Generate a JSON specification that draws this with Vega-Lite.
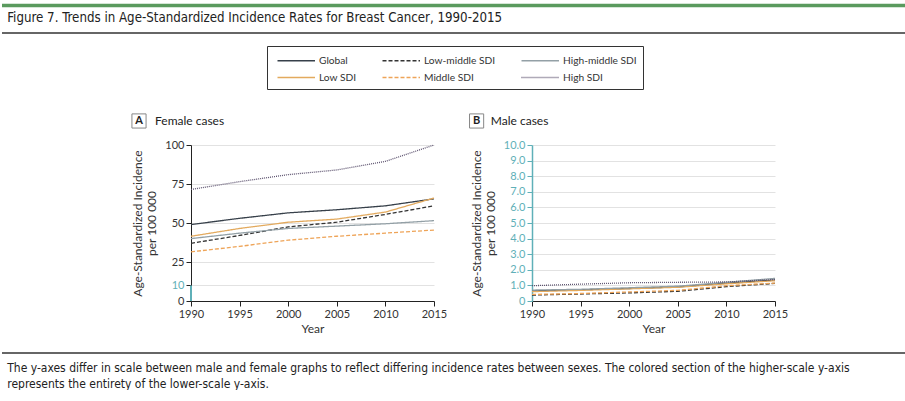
{
  "$schema": "https://vega.github.io/schema/vega-lite/v6.json",
  "background": "white",
  "padding": {"top": 3, "left": 0, "right": 0, "bottom": 0},
  "config": {
    "font": "Lato",
    "view": {"stroke": null},
    "axis": {
      "labelFont": "Lato", "labelFontSize": 11, "labelColor": "#333", "labelOverlap": false, "labelFlush": false,
      "titleFont": "Lato", "titleFontSize": 12, "titleFontWeight": "normal", "titleColor": "#333",
      "domainColor": "#222", "tickColor": "#222", "tickSize": 5, "gridColor": "#e2e2e2"
    },
    "legend": {
      "orient": "none", "legendX": 76, "legendY": -99, "columns": 3, "direction": "vertical", "title": null,
      "strokeColor": "#333", "padding": 6, "symbolType": "M0,0H5", "symbolSize": 225, "symbolOffset": -4,
      "symbolStrokeWidth": 1.5, "labelFont": "Lato", "labelFontSize": 10.2, "labelColor": "#333",
      "labelOffset": 33, "columnPadding": 21, "rowPadding": 3
    }
  },
  "title": {
    "text": "Figure 7. Trends in Age-Standardized Incidence Rates for Breast Cancer, 1990-2015",
    "font": "Liberation Sans Narrow, DejaVu Sans Condensed, sans-serif",
    "fontSize": 13.2, "fontWeight": "normal", "color": "#222",
    "anchor": "start", "frame": "bounds", "offset": -21, "dx": 7
  },
  "datasets": {
    "female": [
      {"series": "Global", "year": 1990, "rate": 49}, {"series": "Global", "year": 1995, "rate": 53}, {"series": "Global", "year": 2000, "rate": 56.5}, {"series": "Global", "year": 2005, "rate": 58.5}, {"series": "Global", "year": 2010, "rate": 61}, {"series": "Global", "year": 2015, "rate": 65.5},
      {"series": "Low SDI", "year": 1990, "rate": 41.5}, {"series": "Low SDI", "year": 1995, "rate": 46.5}, {"series": "Low SDI", "year": 2000, "rate": 50.5}, {"series": "Low SDI", "year": 2005, "rate": 52.5}, {"series": "Low SDI", "year": 2010, "rate": 57}, {"series": "Low SDI", "year": 2015, "rate": 66},
      {"series": "Low-middle SDI", "year": 1990, "rate": 37}, {"series": "Low-middle SDI", "year": 1995, "rate": 42}, {"series": "Low-middle SDI", "year": 2000, "rate": 47.5}, {"series": "Low-middle SDI", "year": 2005, "rate": 50.5}, {"series": "Low-middle SDI", "year": 2010, "rate": 55.5}, {"series": "Low-middle SDI", "year": 2015, "rate": 61},
      {"series": "High-middle SDI", "year": 1990, "rate": 40}, {"series": "High-middle SDI", "year": 1995, "rate": 43.5}, {"series": "High-middle SDI", "year": 2000, "rate": 46.5}, {"series": "High-middle SDI", "year": 2005, "rate": 48}, {"series": "High-middle SDI", "year": 2010, "rate": 49.5}, {"series": "High-middle SDI", "year": 2015, "rate": 51.5},
      {"series": "Middle SDI", "year": 1990, "rate": 31.5}, {"series": "Middle SDI", "year": 1995, "rate": 35}, {"series": "Middle SDI", "year": 2000, "rate": 39}, {"series": "Middle SDI", "year": 2005, "rate": 41.5}, {"series": "Middle SDI", "year": 2010, "rate": 43.5}, {"series": "Middle SDI", "year": 2015, "rate": 45.5},
      {"series": "High SDI", "year": 1990, "rate": 71.5}, {"series": "High SDI", "year": 1995, "rate": 76.5}, {"series": "High SDI", "year": 2000, "rate": 81}, {"series": "High SDI", "year": 2005, "rate": 84}, {"series": "High SDI", "year": 2010, "rate": 89.5}, {"series": "High SDI", "year": 2015, "rate": 100}
    ],
    "male": [
      {"series": "Global", "year": 1990, "rate": 0.65}, {"series": "Global", "year": 1995, "rate": 0.72}, {"series": "Global", "year": 2000, "rate": 0.8}, {"series": "Global", "year": 2005, "rate": 0.9}, {"series": "Global", "year": 2010, "rate": 1.15}, {"series": "Global", "year": 2015, "rate": 1.35},
      {"series": "Low SDI", "year": 1990, "rate": 0.6}, {"series": "Low SDI", "year": 1995, "rate": 0.68}, {"series": "Low SDI", "year": 2000, "rate": 0.78}, {"series": "Low SDI", "year": 2005, "rate": 0.88}, {"series": "Low SDI", "year": 2010, "rate": 1.1}, {"series": "Low SDI", "year": 2015, "rate": 1.3},
      {"series": "Low-middle SDI", "year": 1990, "rate": 0.38}, {"series": "Low-middle SDI", "year": 1995, "rate": 0.45}, {"series": "Low-middle SDI", "year": 2000, "rate": 0.52}, {"series": "Low-middle SDI", "year": 2005, "rate": 0.62}, {"series": "Low-middle SDI", "year": 2010, "rate": 0.92}, {"series": "Low-middle SDI", "year": 2015, "rate": 1.13},
      {"series": "High-middle SDI", "year": 1990, "rate": 0.7}, {"series": "High-middle SDI", "year": 1995, "rate": 0.75}, {"series": "High-middle SDI", "year": 2000, "rate": 0.85}, {"series": "High-middle SDI", "year": 2005, "rate": 0.95}, {"series": "High-middle SDI", "year": 2010, "rate": 1.2}, {"series": "High-middle SDI", "year": 2015, "rate": 1.45},
      {"series": "Middle SDI", "year": 1990, "rate": 0.42}, {"series": "Middle SDI", "year": 1995, "rate": 0.48}, {"series": "Middle SDI", "year": 2000, "rate": 0.58}, {"series": "Middle SDI", "year": 2005, "rate": 0.68}, {"series": "Middle SDI", "year": 2010, "rate": 0.98}, {"series": "Middle SDI", "year": 2015, "rate": 1.15},
      {"series": "High SDI", "year": 1990, "rate": 0.98}, {"series": "High SDI", "year": 1995, "rate": 1.08}, {"series": "High SDI", "year": 2000, "rate": 1.17}, {"series": "High SDI", "year": 2005, "rate": 1.2}, {"series": "High SDI", "year": 2010, "rate": 1.22}, {"series": "High SDI", "year": 2015, "rate": 1.38}
    ]
  },
  "vconcat": [
    {
      "title": {
        "text": ["The y-axes differ in scale between male and female graphs to reflect differing incidence rates between sexes. The colored section of the higher-scale y-axis", "represents the entirety of the lower-scale y-axis."],
        "orient": "bottom", "anchor": "start", "frame": "bounds", "offset": 9, "dx": 7,
        "font": "Liberation Sans Narrow, DejaVu Sans Condensed, sans-serif",
        "fontSize": 12, "fontWeight": "normal", "color": "#222", "lineHeight": 16
      },
      "spacing": 98,
      "bounds": "flush",
      "hconcat": [
        {
          "width": 243, "height": 156,
          "layer": [
            {
              "data": {"name": "female"},
              "mark": {"type": "line", "strokeWidth": 1.3},
              "encoding": {
                "x": {"field": "year", "type": "quantitative", "scale": {"domain": [1990, 2015], "nice": false, "zero": false},
                      "axis": {"values": [1990, 1995, 2000, 2005, 2010, 2015], "tickCount": 20, "format": "d", "title": "Year", "grid": false, "titlePadding": 4}},
                "y": {"field": "rate", "type": "quantitative", "scale": {"domain": [0, 100], "nice": false},
                      "axis": {"values": [0, 10, 25, 50, 75, 100], "tickCount": 20, "title": ["Age-Standardized Incidence", "per 100 000"], "titlePadding": 6,
                               "labelColor": {"condition": {"test": "datum.value == 10", "value": "#5fb0b8"}, "value": "#333"}}},
                "color": {"field": "series", "type": "nominal",
                          "scale": {"domain": ["Global", "Low SDI", "Low-middle SDI", "Middle SDI", "High-middle SDI", "High SDI"],
                                    "range": ["#37404a", "#e3aa5e", "#333333", "#eea458", "#93a0a6", "#5e5470"]}},
                "strokeDash": {"field": "series", "type": "nominal",
                               "scale": {"domain": ["Global", "Low SDI", "Low-middle SDI", "Middle SDI", "High-middle SDI", "High SDI"],
                                         "range": [[1, 0], [1, 0], [4, 2], [4, 2], [1, 0], [1, 1]]}}
              }
            },
            {
              "data": {"values": [{}]},
              "mark": {"type": "rule", "color": "#5fb0b8", "strokeWidth": 2},
              "encoding": {"x": {"datum": 1990}, "y": {"datum": 0}, "y2": {"datum": 10}}
            },
            {
              "data": {"values": [{}]},
              "mark": {"type": "point", "shape": "square", "size": 200, "filled": false, "stroke": "#888", "strokeWidth": 1, "opacity": 1},
              "encoding": {"x": {"datum": 1984.65}, "y": {"datum": 115.4}}
            },
            {
              "data": {"values": [{}]},
              "mark": {"type": "text", "text": "A", "font": "Lato", "fontSize": 11, "fontWeight": "bold", "color": "#222", "align": "center", "baseline": "middle"},
              "encoding": {"x": {"datum": 1984.65}, "y": {"datum": 115.4}}
            },
            {
              "data": {"values": [{}]},
              "mark": {"type": "text", "text": "Female cases", "font": "Lato", "fontSize": 12, "color": "#222", "align": "left", "baseline": "middle"},
              "encoding": {"x": {"datum": 1986.3}, "y": {"datum": 115.4}}
            },
            {
              "data": {"values": [{}]},
              "mark": {"type": "rule", "color": "#5a9a5e", "strokeWidth": 3.5},
              "encoding": {"x": {"datum": 1970.556}, "x2": {"datum": 2063.66}, "y": {"datum": 189.4}}
            },
            {
              "data": {"values": [{}]},
              "mark": {"type": "rule", "color": "#333", "strokeWidth": 1.5},
              "encoding": {"x": {"datum": 1970.556}, "x2": {"datum": 2063.66}, "y": {"datum": 171.8}}
            },
            {
              "data": {"values": [{}]},
              "mark": {"type": "rule", "color": "#333", "strokeWidth": 1.5},
              "encoding": {"x": {"datum": 1970.556}, "x2": {"datum": 2063.66}, "y": {"datum": -33.3}}
            }
          ]
        },
        {
          "width": 243, "height": 156,
          "layer": [
            {
              "data": {"name": "male"},
              "mark": {"type": "line", "strokeWidth": 1.3},
              "encoding": {
                "x": {"field": "year", "type": "quantitative", "scale": {"domain": [1990, 2015], "nice": false, "zero": false},
                      "axis": {"values": [1990, 1995, 2000, 2005, 2010, 2015], "tickCount": 20, "format": "d", "title": "Year", "grid": false, "titlePadding": 4}},
                "y": {"field": "rate", "type": "quantitative", "scale": {"domain": [0, 10], "nice": false},
                      "axis": {"values": [0, 1, 2, 3, 4, 5, 6, 7, 8, 9, 10], "tickCount": 20, "labelExpr": "datum.value == 0 ? '0' : format(datum.value, '.1f')",
                               "title": ["Age-Standardized Incidence", "per 100 000"], "titlePadding": 6,
                               "labelColor": "#5fb0b8", "domainColor": "#5fb0b8", "tickColor": "#5fb0b8", "domainWidth": 1.5}},
                "color": {"field": "series", "type": "nominal"},
                "strokeDash": {"field": "series", "type": "nominal"}
              }
            },
            {
              "data": {"values": [{}]},
              "mark": {"type": "point", "shape": "square", "size": 200, "filled": false, "stroke": "#888", "strokeWidth": 1, "opacity": 1},
              "encoding": {"x": {"datum": 1984.3}, "y": {"datum": 11.54}}
            },
            {
              "data": {"values": [{}]},
              "mark": {"type": "text", "text": "B", "font": "Lato", "fontSize": 11, "fontWeight": "bold", "color": "#222", "align": "center", "baseline": "middle"},
              "encoding": {"x": {"datum": 1984.3}, "y": {"datum": 11.54}}
            },
            {
              "data": {"values": [{}]},
              "mark": {"type": "text", "text": "Male cases", "font": "Lato", "fontSize": 12, "color": "#222", "align": "left", "baseline": "middle"},
              "encoding": {"x": {"datum": 1985.76}, "y": {"datum": 11.54}}
            }
          ]
        }
      ]
    }
  ]
}
